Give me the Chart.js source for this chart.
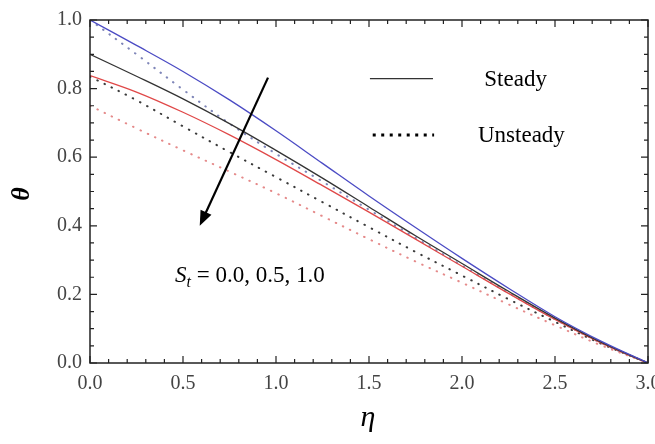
<!DOCTYPE html>
<html>
<head>
<meta charset="utf-8">
<script src="https://cdn.jsdelivr.net/npm/chart.js@4/dist/chart.umd.min.js"></script>
<style>
  html, body { margin: 0; padding: 0; background: #fff; overflow: hidden; }
  #wrap { width: 655px; height: 444px; position: relative; }
</style>
</head>
<body>
<div id="wrap"><canvas id="thetaChart"></canvas></div>
<script>
// eta values and theta profiles
const eta = [0, 0.25, 0.5, 0.75, 1.0, 1.25, 1.5, 1.75, 2.0, 2.25, 2.5, 2.75, 3.0];

const steady00 = [1.00, 0.926, 0.850, 0.767, 0.677, 0.582, 0.487, 0.395, 0.305, 0.218, 0.135, 0.063, 0];
const steady05 = [0.90, 0.836, 0.770, 0.698, 0.620, 0.539, 0.455, 0.371, 0.290, 0.209, 0.131, 0.060, 0];
const steady10 = [0.838, 0.790, 0.731, 0.665, 0.593, 0.517, 0.440, 0.361, 0.282, 0.203, 0.127, 0.058, 0];

const unsteady00 = [1.00, 0.900, 0.797, 0.698, 0.610, 0.529, 0.447, 0.365, 0.284, 0.204, 0.128, 0.058, 0];
const unsteady05 = [0.835, 0.766, 0.690, 0.615, 0.542, 0.469, 0.396, 0.324, 0.255, 0.186, 0.120, 0.056, 0];
const unsteady10 = [0.750, 0.684, 0.620, 0.558, 0.495, 0.428, 0.361, 0.296, 0.234, 0.171, 0.110, 0.051, 0];

const xTicks = [0, 0.5, 1.0, 1.5, 2.0, 2.5, 3.0];
const yTicks = [0, 0.2, 0.4, 0.6, 0.8, 1.0];

const serif = '"Liberation Serif", "DejaVu Serif", serif';

function pts(ys) {
    return eta.map((x, i) => ({ x: x, y: ys[i] }));
}

function solid(label, data, color) {
    return {
        label: label, data: pts(data), borderColor: color, borderWidth: 1.3,
        pointRadius: 0, fill: false, tension: 0.35
    };
}

function dotted(label, data, color) {
    return {
        label: label, data: pts(data), borderColor: color, borderWidth: 2,
        borderDash: [0.5, 7.5], borderCapStyle: 'round',
        pointRadius: 0, fill: false, tension: 0.35
    };
}

// cadre, graduations intérieures, légende, flèche et titres
const decorPlugin = {
    id: 'decor',
    afterDraw(chart) {
        const ctx = chart.ctx;
        const a = chart.chartArea;
        const xs = chart.scales.x, ys = chart.scales.y;
        ctx.save();
        ctx.strokeStyle = '#222';
        ctx.lineWidth = 1.5;
        ctx.strokeRect(a.left, a.top, a.right - a.left, a.bottom - a.top);

        ctx.lineWidth = 1.2;
        for (let i = 0; i <= 30; i++) {
            const v = i / 10;
            const px = xs.getPixelForValue(v);
            const len = (i % 5 === 0) ? 7 : 4;
            ctx.beginPath();
            ctx.moveTo(px, a.bottom); ctx.lineTo(px, a.bottom - len);
            ctx.moveTo(px, a.top); ctx.lineTo(px, a.top + len);
            ctx.stroke();
        }
        for (let i = 0; i <= 20; i++) {
            const v = i / 20;
            const py = ys.getPixelForValue(v);
            const len = (i % 4 === 0) ? 7 : 4;
            ctx.beginPath();
            ctx.moveTo(a.left, py); ctx.lineTo(a.left + len, py);
            ctx.moveTo(a.right, py); ctx.lineTo(a.right - len, py);
            ctx.stroke();
        }

        // légende
        ctx.fillStyle = '#000';
        ctx.font = '23px ' + serif;
        ctx.textBaseline = 'middle';
        let ly = ys.getPixelForValue(0.829);
        ctx.strokeStyle = '#333';
        ctx.lineWidth = 1.3;
        ctx.beginPath();
        ctx.moveTo(xs.getPixelForValue(1.505), ly);
        ctx.lineTo(xs.getPixelForValue(1.844), ly);
        ctx.stroke();
        ctx.fillText('Steady', xs.getPixelForValue(2.12), ly + 1);

        ly = ys.getPixelForValue(0.665);
        ctx.strokeStyle = '#000';
        ctx.lineWidth = 3;
        ctx.setLineDash([3, 5.5]);
        ctx.beginPath();
        ctx.moveTo(xs.getPixelForValue(1.52), ly);
        ctx.lineTo(xs.getPixelForValue(1.85), ly);
        ctx.stroke();
        ctx.setLineDash([]);
        ctx.fillText('Unsteady', xs.getPixelForValue(2.086), ly + 1);

        // flèche
        const x1 = xs.getPixelForValue(0.957), y1 = ys.getPixelForValue(0.832);
        const x2 = xs.getPixelForValue(0.59), y2 = ys.getPixelForValue(0.40);
        const ang = Math.atan2(y2 - y1, x2 - x1);
        ctx.strokeStyle = '#000';
        ctx.lineWidth = 2.2;
        ctx.beginPath();
        ctx.moveTo(x1, y1);
        ctx.lineTo(x2 - 10 * Math.cos(ang), y2 - 10 * Math.sin(ang));
        ctx.stroke();
        ctx.beginPath();
        ctx.moveTo(x2, y2);
        ctx.lineTo(x2 - 15 * Math.cos(ang) + 6 * Math.sin(ang), y2 - 15 * Math.sin(ang) - 6 * Math.cos(ang));
        ctx.lineTo(x2 - 15 * Math.cos(ang) - 6 * Math.sin(ang), y2 - 15 * Math.sin(ang) + 6 * Math.cos(ang));
        ctx.closePath();
        ctx.fill();

        // S_t = 0.0, 0.5, 1.0
        let tx = xs.getPixelForValue(0.457);
        const ty = ys.getPixelForValue(0.235);
        ctx.textBaseline = 'alphabetic';
        ctx.font = 'italic 23px ' + serif;
        ctx.fillText('S', tx, ty);
        tx += ctx.measureText('S').width;
        ctx.font = 'italic 16px ' + serif;
        ctx.fillText('t', tx, ty + 5);
        tx += ctx.measureText('t').width;
        ctx.font = '23px ' + serif;
        ctx.fillText(' = 0.0, 0.5, 1.0', tx, ty);

        // titres des axes
        ctx.font = 'italic 30px ' + serif;
        ctx.textAlign = 'center';
        ctx.fillText('\u03b7', 368, 426);
        ctx.save();
        ctx.translate(22, 194);
        ctx.rotate(-Math.PI / 2);
        ctx.font = 'bold italic 26px ' + serif;
        ctx.textBaseline = 'middle';
        ctx.fillText('\u03b8', 0, 0);
        ctx.restore();
        ctx.restore();
    }
};

const ctx = document.getElementById('thetaChart').getContext('2d');
new Chart(ctx, {
    type: 'line',
    data: {
        datasets: [
            solid('Steady St=0.0', steady00, '#4b4bc4'),
            solid('Steady St=0.5', steady05, '#333333'),
            solid('Steady St=1.0', steady10, '#e04848'),
            dotted('Unsteady St=0.0', unsteady00, '#7f86b8'),
            dotted('Unsteady St=0.5', unsteady05, '#3a3a3a'),
            dotted('Unsteady St=1.0', unsteady10, '#e58a8a')
        ]
    },
    options: {
        responsive: true,
        maintainAspectRatio: false,
        animation: false,
        layout: { padding: { top: 17, right: 7, left: 0, bottom: 0 } },
        plugins: { legend: { display: false }, tooltip: { enabled: false } },
        scales: {
            x: {
                type: 'linear', min: 0, max: 3,
                afterFit(scale) {
                    scale.height = 81;
                    // le libellé 3.0 déborde et est coupé comme dans la figure
                    scale.paddingLeft = 0;
                    scale.paddingRight = 0;
                },
                afterBuildTicks(scale) { scale.ticks = xTicks.map(v => ({ value: v })); },
                grid: { display: false, drawTicks: false },
                border: { display: false },
                ticks: {
                    padding: 9, color: '#444',
                    font: { family: serif, size: 20 },
                    callback: v => v.toFixed(1)
                }
            },
            y: {
                type: 'linear', min: 0, max: 1,
                afterFit(scale) { scale.width = 90; },
                afterBuildTicks(scale) { scale.ticks = yTicks.map(v => ({ value: v })); },
                grid: { display: false, drawTicks: false },
                border: { display: false },
                ticks: {
                    padding: 8, color: '#444',
                    font: { family: serif, size: 20 },
                    callback: v => v.toFixed(1)
                }
            }
        }
    },
    plugins: [decorPlugin]
});
</script>
</body>
</html>
